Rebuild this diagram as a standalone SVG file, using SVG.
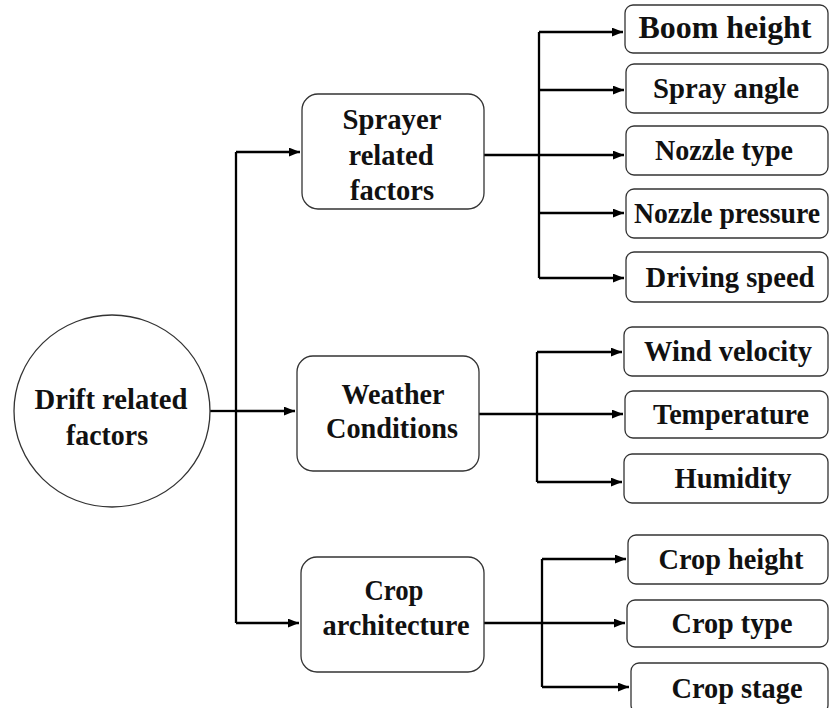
<svg xmlns="http://www.w3.org/2000/svg" width="830" height="708" viewBox="0 0 830 708">
<style>
.box{fill:#fff;stroke:#333;stroke-width:1.3}
.t{font-family:"Liberation Serif","Times New Roman",serif;font-weight:bold;font-size:30px;fill:#111;text-anchor:middle}
.c{fill:none;stroke:#000;stroke-width:2.3}
</style>
<defs>
<marker id="ah" viewBox="0 0 10 8" refX="10" refY="4" markerWidth="11" markerHeight="9" markerUnits="userSpaceOnUse" orient="auto">
<path d="M0,0 L10,4 L0,8 Z" fill="#000"/>
</marker>
</defs>
<rect width="830" height="708" fill="#fff"/>
<g id="connectors">
<path class="c" d="M210,411 H236"/>
<path class="c" d="M236,152 V623"/>
<path class="c" d="M236,152 H300" marker-end="url(#ah)"/>
<path class="c" d="M236,411 H295" marker-end="url(#ah)"/>
<path class="c" d="M236,623 H299" marker-end="url(#ah)"/>
<path class="c" d="M484,155 H624" marker-end="url(#ah)"/>
<path class="c" d="M539,32 V278"/>
<path class="c" d="M539,32 H623" marker-end="url(#ah)"/>
<path class="c" d="M539,90 H624" marker-end="url(#ah)"/>
<path class="c" d="M539,213 H624" marker-end="url(#ah)"/>
<path class="c" d="M539,278 H624" marker-end="url(#ah)"/>
<path class="c" d="M479,414 H623" marker-end="url(#ah)"/>
<path class="c" d="M537,352 V482"/>
<path class="c" d="M537,352 H622" marker-end="url(#ah)"/>
<path class="c" d="M537,482 H622" marker-end="url(#ah)"/>
<path class="c" d="M484,623 H625" marker-end="url(#ah)"/>
<path class="c" d="M542,559 V687"/>
<path class="c" d="M542,559 H626" marker-end="url(#ah)"/>
<path class="c" d="M542,687 H629" marker-end="url(#ah)"/>
</g>
<g id="drift">
<ellipse class="box" cx="112" cy="411" rx="98" ry="96"/>
<text class="t" x="111" y="409" textLength="153" lengthAdjust="spacingAndGlyphs">Drift related</text>
<text class="t" x="107" y="445" textLength="82" lengthAdjust="spacingAndGlyphs">factors</text>
</g>
<g id="sprayer">
<rect class="box" x="302" y="94" width="182" height="115" rx="16"/>
<text class="t" x="392" y="129" textLength="99" lengthAdjust="spacingAndGlyphs">Sprayer</text>
<text class="t" x="391" y="165" textLength="85" lengthAdjust="spacingAndGlyphs">related</text>
<text class="t" x="392" y="200" textLength="84" lengthAdjust="spacingAndGlyphs">factors</text>
</g>
<g id="weather">
<rect class="box" x="297" y="356" width="182" height="115" rx="16"/>
<text class="t" x="393" y="404" textLength="103" lengthAdjust="spacingAndGlyphs">Weather</text>
<text class="t" x="392" y="438" textLength="132" lengthAdjust="spacingAndGlyphs">Conditions</text>
</g>
<g id="crop">
<rect class="box" x="301" y="557" width="183" height="115" rx="16"/>
<text class="t" x="394" y="600" textLength="59" lengthAdjust="spacingAndGlyphs">Crop</text>
<text class="t" x="396" y="635" textLength="147" lengthAdjust="spacingAndGlyphs">architecture</text>
</g>
<g id="boom">
<rect class="box" x="625" y="5" width="203" height="48" rx="8"/>
<text class="t" x="725" y="38" style="font-size:31px" textLength="173" lengthAdjust="spacingAndGlyphs">Boom height</text>
</g>
<g id="sprayangle">
<rect class="box" x="626" y="64" width="202" height="49" rx="8"/>
<text class="t" x="726" y="98" textLength="146" lengthAdjust="spacingAndGlyphs">Spray angle</text>
</g>
<g id="nozzletype">
<rect class="box" x="626" y="126" width="202" height="49" rx="8"/>
<text class="t" x="724" y="160" textLength="138" lengthAdjust="spacingAndGlyphs">Nozzle type</text>
</g>
<g id="nozzlepressure">
<rect class="box" x="626" y="189" width="202" height="49" rx="8"/>
<text class="t" x="727" y="223" textLength="186" lengthAdjust="spacingAndGlyphs">Nozzle pressure</text>
</g>
<g id="drivingspeed">
<rect class="box" x="626" y="252" width="202" height="50" rx="8"/>
<text class="t" x="730" y="287" textLength="169" lengthAdjust="spacingAndGlyphs">Driving speed</text>
</g>
<g id="wind">
<rect class="box" x="624" y="327" width="204" height="49" rx="8"/>
<text class="t" x="728" y="361" textLength="168" lengthAdjust="spacingAndGlyphs">Wind velocity</text>
</g>
<g id="temperature">
<rect class="box" x="625" y="391" width="203" height="47" rx="8"/>
<text class="t" x="731" y="424" textLength="156" lengthAdjust="spacingAndGlyphs">Temperature</text>
</g>
<g id="humidity">
<rect class="box" x="624" y="454" width="204" height="49" rx="8"/>
<text class="t" x="733" y="488" textLength="117" lengthAdjust="spacingAndGlyphs">Humidity</text>
</g>
<g id="cropheight">
<rect class="box" x="628" y="535" width="200" height="49" rx="8"/>
<text class="t" x="731" y="569" textLength="145" lengthAdjust="spacingAndGlyphs">Crop height</text>
</g>
<g id="croptype">
<rect class="box" x="627" y="600" width="201" height="47" rx="8"/>
<text class="t" x="732" y="633" textLength="121" lengthAdjust="spacingAndGlyphs">Crop type</text>
</g>
<g id="cropstage">
<rect class="box" x="631" y="663" width="197" height="50" rx="8"/>
<text class="t" x="737" y="698" textLength="131" lengthAdjust="spacingAndGlyphs">Crop stage</text>
</g>
</svg>
